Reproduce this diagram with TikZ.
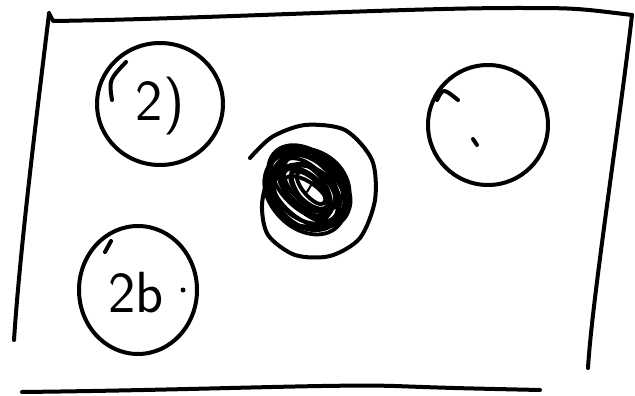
\documentclass[tikz,border=0pt]{standalone}
\usetikzlibrary{positioning, calc}
\tikzset{
  pen/.style={line width=4pt, line cap=round, line join=round},
  hand/.style={font=\fontsize{58}{58}\selectfont\sffamily, inner sep=0pt}
}
\begin{document}
\begin{tikzpicture}[x=1pt,y=-1pt]
  \useasboundingbox (0,0) rectangle (635,396);

  % Frame
  \draw[pen] (49,13) -- (53,21) .. controls (200,19) and (400,8) .. (515,8) .. controls (575,8) .. (632,15);
  \draw[pen] (632,15) .. controls (620,120) and (592,300) .. (588,368);
  \draw[pen] (49,14) .. controls (36,120) and (20,250) .. (14,340);
  \draw[pen] (22,392) .. controls (200,390) and (330,384) .. (395,386) .. controls (450,388) .. (540,390);

  % Circle 2)
  \draw[pen] (160,104) ellipse [x radius=63, y radius=61];
  \draw[pen] (112,100) .. controls (109,80) .. (126,62);
  \node[hand] (two) at (160,106) {2)};

  % Scribbled circle
  \draw[pen] plot[smooth] coordinates {(250,158) (272,137) (305,125) (345,130) (372,160)
    (375,200) (360,238) (330,256) (295,255) (268,235) (262,205) (270,175) (292,155)};
  \foreach \rx/\ry/\a/\dx/\dy in {48/32/-45/0/0, 44/34/-50/-3/4, 46/28/-40/2/-2,
      40/30/-55/-4/6, 42/24/-45/3/2, 36/26/-35/-2/8, 38/20/-50/0/4,
      34/22/-40/4/-4, 30/16/-45/-2/6, 28/14/-55/2/2, 44/38/-30/-2/2,
      40/36/-60/0/4, 32/30/-20/-6/10, 46/34/-45/-4/8, 24/11/-45/0/4,
      20/8/-50/2/2, 26/12/-35/-3/8}
    \draw[pen, line width=3.8pt] ($(309,186)+(\dx,\dy)$) ellipse [x radius=\rx, y radius=\ry, rotate=\a];
  \draw[pen, line width=2pt] (307,192) -- (313,182);

  % Circle with dot
  \draw[pen] (488,125) ellipse [x radius=60, y radius=60];
  \draw[pen] (437,100) .. controls (443,88) .. (458,100);
  \draw[pen] (473,139) -- (477,145);

  % Circle 2b.
  \draw[pen] (138,290) ellipse [x radius=59, y radius=64];
  \draw[pen] (105,252) -- (111,241);
  \node[hand] (twob) at (136,293) {2b};
  \fill (183,290) circle (2.5);
\end{tikzpicture}
\end{document}
